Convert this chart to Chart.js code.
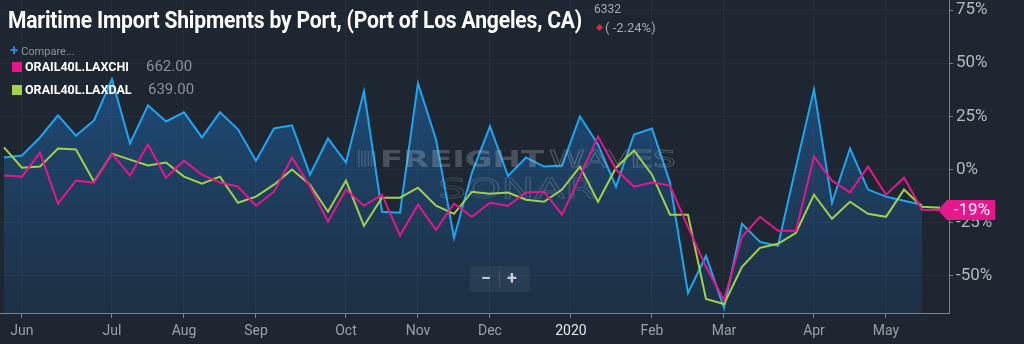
<!DOCTYPE html>
<html>
<head>
<meta charset="utf-8">
<title>Maritime Import Shipments by Port</title>
<script src="https://cdn.jsdelivr.net/npm/chart.js@4.4.1/dist/chart.umd.min.js"></script>
<style>
  html, body { margin: 0; padding: 0; background: #1d2631; }
  #wrap { position: relative; width: 1024px; height: 344px; overflow: hidden; background: #1d2631; }
  #chart { position: absolute; left: 0; top: 0; }
  .ttl { position: absolute; left: 8px; top: 8px; font: bold 24px Roboto, sans-serif; line-height: 24px;
         color: #fff; white-space: nowrap; transform-origin: 0 0; letter-spacing: -0.2px; }
  .last { position: absolute; left: 594px; top: 2px; font: 12px Roboto, sans-serif; color: #a3a9b0; }
  .chg { position: absolute; left: 596px; top: 20px; font: 13px Roboto, sans-serif; color: #a3a9b0; white-space: nowrap; }
  .chg i { display: inline-block; width: 5px; height: 5px; background: #e0283a; transform: rotate(45deg); margin: 0 3px 2px 1px; }
  .cmp { position: absolute; left: 10px; top: 41px; font: 11px Roboto, sans-serif; color: #8e959c; }
  .cmp b { color: #2f8de4; font-size: 15px; font-weight: bold; margin-right: 3px; }
  .lg { position: absolute; left: 12px; font: bold 12.5px Roboto, sans-serif; color: #fff; white-space: nowrap; }
  .lg span.sw { display: inline-block; width: 10px; height: 10px; vertical-align: -1px; margin-right: 3px; }
  .lg span.val { position: absolute; font: 15px Roboto, sans-serif; color: #8b9299; top: -2px; }
  .zoom { position: absolute; left: 470px; top: 266px; width: 60px; height: 26px; background: rgba(255,255,255,0.05);
          border-radius: 2px; font: bold 18px Roboto, sans-serif; color: #c9cdd1; }
  .zoom span { position: absolute; top: 1px; }
  .zoom .sep { position: absolute; left: 29px; top: 4px; width: 1px; height: 18px; background: rgba(255,255,255,0.12); }
</style>
</head>
<body>
<div id="wrap">
  <canvas id="chart" width="1024" height="344"></canvas>
  <div class="ttl" id="ttl">Maritime Import Shipments by Port, (Port of Los Angeles, CA)</div>
  <div class="last">6332</div>
  <div class="chg"><i></i>( -2.24%)</div>
  <div class="cmp"><b>+</b>Compare...</div>
  <div class="lg" style="top:59px"><span class="sw" style="background:#e6168c"></span>ORAIL40L.LAXCHI<span class="val" style="left:134px">662.00</span></div>
  <div class="lg" style="top:82px"><span class="sw" style="background:#a2d04a"></span>ORAIL40L.LAXDAL<span class="val" style="left:136px">639.00</span></div>
  <div class="zoom"><span style="left:11px">&minus;</span><div class="sep"></div><span style="left:37px">+</span></div>
</div>
<script>
// weekly readings, % change; week 0 is the last week of May 2019
const portShipments = [
  5.7, 6.6, 15.1, 25.5, 16, 23.1, 42.5, 12.3, 30.2, 22.6,
  26.9, 15.1, 26.9, 18.9, 4.2, 19.3, 20.8, -2.4, 14.6, 3.3,
  36.8, -19.8, -20.3, 40.6, 14.2, -32, -1.4, 20.3, -3, 5.7,
  1.4, 1.9, 25, 11.8, -8, 16.5, 19.3, -6.1, -58, -40.6,
  -65.1, -25.5, -34, -35.8, 1.4, 37.7, -15.6, 9.9, -9.4, -12.7,
  -14.6, -16.5
];
const laxChi = [
  -2.8, -3.3, 8, -16, -5.2, -6.1, 7.5, -2.8, 11.8, -3.8,
  4.2, -2.4, -6.1, -8, -17, -10.4, 5.7, -8, -24.5, -9.4,
  -17, -11.8, -31, -16.5, -28.3, -16, -22.2, -15.6, -17, -10.8,
  -10.4, -21.2, -3.3, 15.6, 0, -8, -6.1, -7.5, -27, -45.7,
  -61.3, -31.6, -22.2, -28.8, -28.8, 6.1, -5.2, -10.8, 1.4, -11.8,
  -3.8, -18.9, -19
];
const laxDal = [
  10.4, 0.9, 1.4, 9.9, 9.4, -5.7, 7.5, 4.7, 1.9, 3.3,
  -3.3, -6.6, -3.3, -15.6, -12.7, -7.1, 0, -7.1, -19.8, -5.2,
  -26.4, -13.2, -13.2, -8.5, -17, -20.8, -10.4, -11.3, -10.8, -14.2,
  -15.1, -9.4, 1.4, -15.1, 0.9, 9, -2.4, -21.2, -21.2, -60.8,
  -63.2, -45.7, -36.8, -34.9, -29.7, -11.8, -23.1, -15.1, -20.8, -22.2,
  -9.4, -17.5, -17.9
];

// month ticks, placed on the week axis
const monthTickPos = [1, 6, 10, 14, 19, 23, 27, 31.5, 36, 40, 45, 49];
const monthLabels = ['Jun', 'Jul', 'Aug', 'Sep', 'Oct', 'Nov', 'Dec', '2020', 'Feb', 'Mar', 'Apr', 'May'];
const pctTicks = [-50, -25, 0, 25, 50, 75];

const BLUE = '#1ea6f2', PINK = '#e6168c', GREEN = '#a2d04a';
const AXIS = '#7a838c';

const toXY = arr => arr.map((v, i) => ({ x: i, y: v }));

// squeeze the title into a condensed look
const ttl = document.getElementById('ttl');
ttl.style.transform = 'scaleX(' + (574 / ttl.getBoundingClientRect().width) + ')';

// draws text stretched to a given width
function stretched(c, text, x, base, width, font, mode, color) {
  c.save();
  c.font = font;
  const w = c.measureText(text).width;
  c.translate(x, base);
  c.scale(width / w, 1);
  if (mode === 'stroke') { c.strokeStyle = color; c.lineWidth = 0.9; c.strokeText(text, 0, 0); }
  else { c.fillStyle = color; c.fillText(text, 0, 0); }
  c.restore();
}

const watermark = {
  id: 'watermark',
  afterDatasetDraw(chart, args) {
    if (args.index !== 2) return;
    const c = chart.ctx;
    c.save();
    c.fillStyle = 'rgba(190,198,206,0.22)';
    for (let k = 0; k < 6; k++) c.fillRect(358 + k * 3.2, 150 + (k % 2), 1.6, 17 - (k % 2) * 2);
    stretched(c, 'FREIGHT', 380, 167, 164, 'bold 23px "DejaVu Sans"', 'fill', 'rgba(190,198,206,0.28)');
    stretched(c, 'WAVES', 549, 167, 127, '23px "DejaVu Sans"', 'stroke', 'rgba(190,198,206,0.3)');
    stretched(c, 'SONAR', 438, 198, 158, '27px "DejaVu Sans"', 'stroke', 'rgba(190,198,206,0.22)');
    c.restore();
  }
};

// value tag at the end of the LAXCHI line
const lastTag = {
  id: 'lastTag',
  afterDraw(chart) {
    const meta = chart.getDatasetMeta(0);
    const pt = meta.data[meta.data.length - 1];
    const v = laxChi[laxChi.length - 1];
    const c = chart.ctx, x = pt.x, y = pt.y;
    c.save();
    c.fillStyle = PINK;
    c.beginPath();
    c.moveTo(x - 2, y);
    c.lineTo(x + 7, y - 10);
    c.lineTo(x + 55, y - 10);
    c.lineTo(x + 55, y + 10);
    c.lineTo(x + 7, y + 10);
    c.closePath();
    c.fill();
    c.fillStyle = '#fff';
    c.font = '17px Roboto';
    c.textAlign = 'center';
    c.textBaseline = 'middle';
    c.fillText(Math.round(v) + '%', x + 32, y + 1);
    c.restore();
  }
};

new Chart(document.getElementById('chart'), {
  type: 'line',
  data: {
    datasets: [
      { label: 'ORAIL40L.LAXCHI', data: toXY(laxChi), borderColor: PINK, borderWidth: 2, pointRadius: 0, fill: false },
      { label: 'ORAIL40L.LAXDAL', data: toXY(laxDal), borderColor: GREEN, borderWidth: 2, pointRadius: 0, fill: false },
      {
        label: 'Maritime Import Shipments', data: toXY(portShipments), borderColor: BLUE, borderWidth: 2,
        pointRadius: 0, fill: 'start',
        backgroundColor: ctx => {
          const a = ctx.chart.chartArea;
          if (!a) return 'rgba(0,0,0,0)';
          const g = ctx.chart.ctx.createLinearGradient(0, a.top, 0, a.bottom);
          g.addColorStop(0, 'rgba(34,120,205,0.55)');
          g.addColorStop(1, 'rgba(34,120,205,0.12)');
          return g;
        }
      }
    ]
  },
  options: {
    responsive: false,
    animation: false,
    layout: { padding: 0 },
    plugins: { legend: { display: false }, tooltip: { enabled: false } },
    scales: {
      x: {
        type: 'linear', min: -0.22, max: 52.5,
        afterBuildTicks: s => { s.ticks = monthTickPos.map(v => ({ value: v })); },
        afterFit: s => { s.height = 31; s.paddingLeft = 0; s.paddingRight = 0; },
        ticks: {
          autoSkip: false, maxRotation: 0, padding: 5,
          font: { family: 'Roboto', size: 14 },
          color: ctx => monthLabels[ctx.index] === '2020' ? '#e6e8ea' : '#9aa1a8',
          callback: (v, i) => monthLabels[i]
        },
        grid: { color: 'rgba(255,255,255,0.045)', tickLength: 5, tickColor: AXIS },
        border: { color: AXIS }
      },
      y: {
        position: 'right', min: -67.4, max: 79.7,
        afterBuildTicks: s => { s.ticks = pctTicks.map(v => ({ value: v })); },
        afterFit: s => { s.width = 75; s.paddingTop = 0; s.paddingBottom = 0; },
        ticks: { color: '#b4b9be', font: { family: 'Roboto', size: 17 }, padding: 3, callback: v => v + '%' },
        grid: { color: 'rgba(255,255,255,0.035)', tickLength: 4, tickColor: AXIS },
        border: { color: AXIS }
      }
    }
  },
  plugins: [watermark, lastTag]
});
</script>
</body>
</html>
